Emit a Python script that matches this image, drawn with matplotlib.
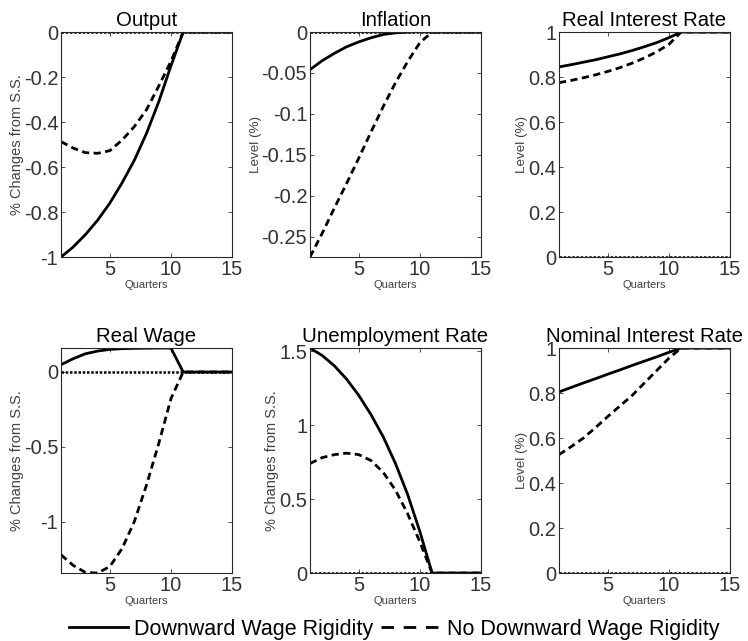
import matplotlib
matplotlib.use("Agg")
import matplotlib.pyplot as plt
from matplotlib.ticker import FuncFormatter
from matplotlib.lines import Line2D

plt.rcParams['font.family'] = ['Liberation Sans', 'DejaVu Sans']
plt.rcParams['axes.unicode_minus'] = False

# Quarters
quarters = list(range(1, 16))

# Output (% changes from S.S.)
output_dwr = [-1.0, -0.955, -0.90, -0.836, -0.76, -0.67, -0.57, -0.45, -0.31, -0.15, 0, 0, 0, 0, 0]
output_no = [-0.487, -0.516, -0.536, -0.539, -0.527, -0.48, -0.42, -0.345, -0.24, -0.13, 0, 0, 0, 0, 0]

# Inflation (level %)
infl_dwr = [-0.046, -0.035, -0.026, -0.018, -0.012, -0.007, -0.003, -0.001, 0.0, 0.0005, 0, 0, 0, 0, 0]
infl_no = [-0.275, -0.246, -0.215, -0.185, -0.154, -0.122, -0.091, -0.062, -0.036, -0.013, 0, 0, 0, 0, 0]

# Real interest rate (level %)
rir_dwr = [0.845, 0.855, 0.866, 0.877, 0.89, 0.903, 0.918, 0.935, 0.953, 0.975, 1, 1, 1, 1, 1]
rir_no = [0.775, 0.785, 0.797, 0.81, 0.825, 0.842, 0.862, 0.885, 0.912, 0.945, 1, 1, 1, 1, 1]

# Real wage (% changes from S.S.)
wage_dwr = [0.049, 0.089, 0.122, 0.14, 0.151, 0.156, 0.158, 0.159, 0.16, 0.16, 0, 0, 0, 0, 0]
wage_no = [-1.222, -1.293, -1.34, -1.344, -1.30, -1.18, -1.0, -0.755, -0.478, -0.178, 0, 0, 0, 0, 0]

# Unemployment rate (% changes from S.S.)
unemp_dwr = [1.52, 1.47, 1.40, 1.31, 1.20, 1.07, 0.92, 0.74, 0.53, 0.28, 0, 0, 0, 0, 0]
unemp_no = [0.74, 0.78, 0.80, 0.81, 0.80, 0.76, 0.68, 0.56, 0.40, 0.21, 0, 0, 0, 0, 0]

# Nominal interest rate (level %)
nir_dwr = [0.805, 0.825, 0.845, 0.864, 0.884, 0.903, 0.923, 0.942, 0.961, 0.981, 1, 1, 1, 1, 1]
nir_no = [0.526, 0.562, 0.60, 0.647, 0.696, 0.743, 0.79, 0.845, 0.90, 0.955, 1, 1, 1, 1, 1]

titles = ["Output", "Inflation", "Real Interest Rate",
          "Real Wage", "Unemployment Rate", "Nominal Interest Rate"]
ylabels = ["% Changes from S.S.", "Level (%)", "Level (%)",
           "% Changes from S.S.", "% Changes from S.S.", "Level (%)"]
series = [(output_dwr, output_no), (infl_dwr, infl_no), (rir_dwr, rir_no),
          (wage_dwr, wage_no), (unemp_dwr, unemp_no), (nir_dwr, nir_no)]
ylims = [(-1, 0), (-0.275, 0), (0, 1), (-1.344, 0.16), (0, 1.52), (0, 1)]
yticks = [[-1, -0.8, -0.6, -0.4, -0.2, 0],
          [-0.25, -0.2, -0.15, -0.1, -0.05, 0],
          [0, 0.2, 0.4, 0.6, 0.8, 1],
          [-1, -0.5, 0],
          [0, 0.5, 1, 1.5],
          [0, 0.2, 0.4, 0.6, 0.8, 1]]

fig = plt.figure(figsize=(7.48, 6.41), dpi=100)
lefts = [0.0816, 0.4144, 0.7473]
bottoms = [0.599, 0.106]
w, h = 0.2286, 0.351

dash = (0, (2.6, 1.6))
dots = (0, (1.0, 0.7))
for i in range(6):
    r, c = divmod(i, 3)
    ax = fig.add_axes([lefts[c], bottoms[r], w, h])
    dwr, no = series[i]
    ax.plot(quarters, [0] * len(quarters), color='black', linestyle=dots, lw=1.8)
    ax.plot(quarters, no, color='black', linestyle=dash, lw=2)
    ax.plot(quarters, dwr, color='black', linestyle='-', lw=2)
    ax.set_xlim(1, 15)
    ax.set_ylim(*ylims[i])
    ax.set_xticks([5, 10, 15])
    ax.set_yticks(yticks[i])
    ax.yaxis.set_major_formatter(FuncFormatter(lambda v, p: '%g' % v))
    ax.tick_params(direction='in', top=True, right=True, labelsize=14.5,
                   colors='#333333', length=3, width=0.6, pad=2)
    for sp in ax.spines.values():
        sp.set_linewidth(0.8)
        sp.set_color('#262626')
    ax.set_title(titles[i], fontsize=14.7, pad=4.5)
    lab_size = 10.5 if ylabels[i].startswith('%') else 9.6
    ax.set_xlabel("Quarters", fontsize=8, color='#404040', labelpad=1)
    ax.set_ylabel(ylabels[i], fontsize=lab_size, color='#404040', labelpad=0)

handles = [Line2D([], [], color='black', lw=2, linestyle='-'),
           Line2D([], [], color='black', lw=2, linestyle=(0, (4.5, 3.5)))]
fig.legend(handles, ["Downward Wage Rigidity", "No Downward Wage Rigidity"],
           loc='lower center', bbox_to_anchor=(0.527, -0.028), ncol=2, frameon=False,
           fontsize=15.5, handlelength=2.75, handletextpad=0.28, columnspacing=0.37)

fig.savefig("out.png", dpi=100)
